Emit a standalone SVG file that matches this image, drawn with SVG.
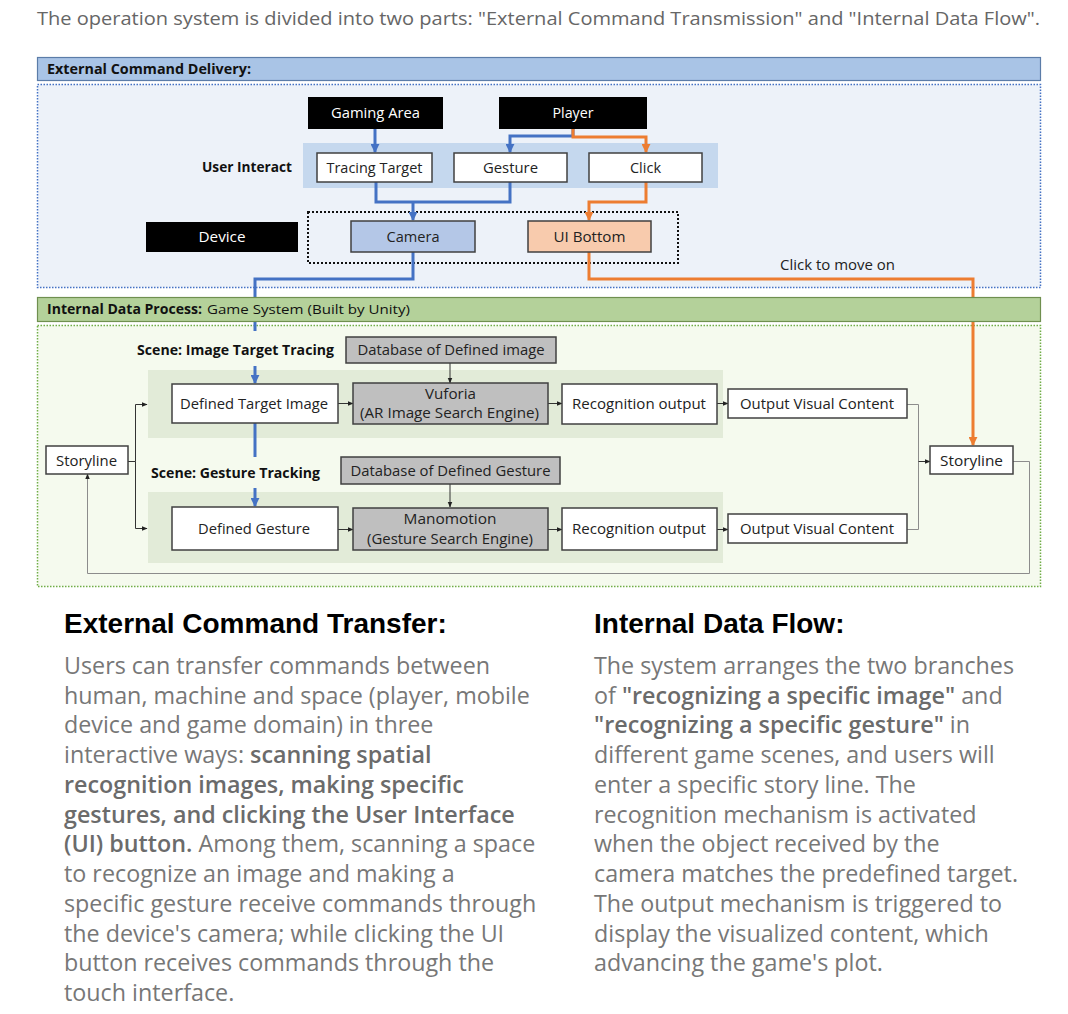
<svg xmlns="http://www.w3.org/2000/svg" width="1068" height="1014" viewBox="0 0 1068 1014">
<defs>
<style>
.t{font-family:"Open Sans","Noto Sans","DejaVu Sans",sans-serif;font-size:14.5px;fill:#222;text-anchor:middle}
.tw{fill:#fff}
.b{font-weight:bold}
.hd{font-family:"Open Sans","Noto Sans",sans-serif;font-size:13.5px;fill:#111}
.box{fill:#fff;stroke:#404040;stroke-width:1.5}
.gbox{fill:#bfbfbf;stroke:#404040;stroke-width:1.5}
.blk{fill:#000}
.blue{fill:none;stroke:#4472c4;stroke-width:3}
.org{fill:none;stroke:#ed7d31;stroke-width:3}
.thin{fill:none;stroke:#333;stroke-width:1}
.lg{fill:none;stroke:#8c8c8c;stroke-width:1}
.h2{font-family:"Liberation Sans",Arial,sans-serif;font-weight:bold;font-size:28px;fill:#000}
.p{font-family:"Open Sans","Noto Sans",sans-serif;font-size:23.3px;fill:#777}
.pb{font-weight:600;fill:#6b6b6b}
</style>
<marker id="ab" viewBox="0 0 10 10" refX="9" refY="5" markerWidth="3" markerHeight="3" orient="auto" markerUnits="strokeWidth"><path d="M0,0 L10,5 L0,10 z" fill="#4472c4"/></marker>
<marker id="ao" viewBox="0 0 10 10" refX="9" refY="5" markerWidth="3" markerHeight="3" orient="auto" markerUnits="strokeWidth"><path d="M0,0 L10,5 L0,10 z" fill="#ed7d31"/></marker>
<marker id="ak" viewBox="0 0 10 10" refX="9" refY="5" markerWidth="6" markerHeight="6" orient="auto" markerUnits="strokeWidth"><path d="M0,1 L10,5 L0,9 z" fill="#222"/></marker>
</defs>
<rect width="1068" height="1014" fill="#fff"/>
<text x="37" y="25" font-family="Open Sans,Noto Sans,sans-serif" font-size="17.5" fill="#666" textLength="1003" lengthAdjust="spacingAndGlyphs">The operation system is divided into two parts: "External Command Transmission" and "Internal Data Flow".</text>

<!-- section backgrounds -->
<g id="external-section">
<rect x="37.5" y="57.5" width="1003" height="23" fill="#a9c4e6" stroke="#5b7ca8" stroke-width="1.2"/>
<text class="hd b" x="47" y="73.5" textLength="204" lengthAdjust="spacingAndGlyphs">External Command Delivery:</text>
<rect x="37.5" y="84.5" width="1003" height="203" fill="#edf2f9" stroke="#4472c4" stroke-width="1.5" stroke-dasharray="1.5 1.5"/>
<rect x="303" y="143" width="415" height="45" fill="#c5d8ee"/>
<rect x="308" y="212" width="370" height="51" fill="none" stroke="#111" stroke-width="2" stroke-dasharray="2 2"/>
</g>
<g id="internal-section">
<rect x="37.5" y="325.5" width="1003" height="261" fill="#f5faee" stroke="#70ad47" stroke-width="1.5" stroke-dasharray="1.5 1.5"/>
<rect x="148" y="370" width="575" height="68" fill="#e2ebd8"/>
<rect x="148" y="492" width="575" height="71" fill="#e2ebd8"/>
</g>

<!-- connectors -->
<g id="connectors">
<path class="blue" d="M375,129 V152" marker-end="url(#ab)"/>
<path class="blue" d="M573,129 V136 H510 V152" marker-end="url(#ab)"/>
<path class="blue" d="M376,182 V202 H510 V182"/>
<path class="blue" d="M413,202 V220" marker-end="url(#ab)"/>
<path class="blue" d="M413,252 V279 H255 V331"/>
<path class="blue" d="M255,366 V383" marker-end="url(#ab)"/>
<path class="blue" d="M255,423 V457"/>
<path class="blue" d="M255,488 V506" marker-end="url(#ab)"/>
<path class="org" d="M573,129 V137 H646 V152" marker-end="url(#ao)"/>
<path class="org" d="M646,182 V202 H589 V220" marker-end="url(#ao)"/>
<path class="org" d="M589,252 V279 H973 V445" marker-end="url(#ao)"/>
<path class="thin" d="M450,363 V383" marker-end="url(#ak)"/>
<path class="thin" d="M338,403.5 H353" marker-end="url(#ak)"/>
<path class="thin" d="M548,403.5 H562" marker-end="url(#ak)"/>
<path class="thin" d="M717,403.5 H728" marker-end="url(#ak)"/>
<path class="thin" d="M450,484 V507" marker-end="url(#ak)"/>
<path class="thin" d="M338,529.5 H353" marker-end="url(#ak)"/>
<path class="thin" d="M548,529.5 H562" marker-end="url(#ak)"/>
<path class="thin" d="M717,529.5 H728" marker-end="url(#ak)"/>
<path class="thin" d="M128,461.5 H135.5 V404.5 H147" marker-end="url(#ak)"/>
<path class="thin" d="M135.5,461.5 V528.5 H147" marker-end="url(#ak)"/>
<path class="lg" d="M907,404.5 H918.5 V529.5 H907"/>
<path class="thin" d="M918.5,461.5 H930" marker-end="url(#ak)"/>
<path class="lg" stroke="#6e6e6e" d="M1013,461.5 H1029.5 V573.5 H87.5 V474" marker-end="url(#ak)"/>
</g>

<g id="internal-header">
<rect x="37.5" y="297.5" width="1003" height="24" fill="#b4d19a" stroke="#6f8f4f" stroke-width="1.2"/>
<text class="hd" x="47" y="314"><tspan class="b" textLength="155" lengthAdjust="spacingAndGlyphs">Internal Data Process:</tspan><tspan x="207" textLength="203" lengthAdjust="spacingAndGlyphs">Game System (Built by Unity)</tspan></text>
</g>

<!-- nodes -->
<g id="gaming-area"><rect class="blk" x="308" y="97" width="135" height="32"/><text class="t tw" x="375.5" y="118" textLength="89" lengthAdjust="spacingAndGlyphs">Gaming Area</text></g>
<g id="player"><rect class="blk" x="499" y="97" width="148" height="32"/><text class="t tw" x="573" y="118" textLength="41" lengthAdjust="spacingAndGlyphs">Player</text></g>
<g id="user-interact"><text class="hd b" x="292" y="172" text-anchor="end" textLength="90" lengthAdjust="spacingAndGlyphs">User Interact</text></g>
<g id="tracing-target"><rect class="box" x="317" y="153" width="115" height="29"/><text class="t" x="374.5" y="172.5" textLength="96" lengthAdjust="spacingAndGlyphs">Tracing Target</text></g>
<g id="gesture"><rect class="box" x="454" y="153" width="113" height="29"/><text class="t" x="510.5" y="172.5" textLength="55" lengthAdjust="spacingAndGlyphs">Gesture</text></g>
<g id="click"><rect class="box" x="589" y="153" width="113" height="29"/><text class="t" x="645.5" y="172.5" textLength="31" lengthAdjust="spacingAndGlyphs">Click</text></g>
<g id="device"><rect class="blk" x="146" y="222" width="152" height="30"/><text class="t tw" x="222" y="242" textLength="47" lengthAdjust="spacingAndGlyphs">Device</text></g>
<g id="camera"><rect x="351" y="221" width="124" height="31" fill="#b4c7e7" stroke="#404040" stroke-width="1.5"/><text class="t" x="413" y="241.5" textLength="53" lengthAdjust="spacingAndGlyphs">Camera</text></g>
<g id="ui-bottom"><rect x="528" y="221" width="123" height="31" fill="#f8cbad" stroke="#404040" stroke-width="1.5"/><text class="t" x="589.5" y="241.5" textLength="72" lengthAdjust="spacingAndGlyphs">UI Bottom</text></g>
<g id="click-label"><text class="t" x="837.5" y="270" textLength="115" lengthAdjust="spacingAndGlyphs">Click to move on</text></g>

<g id="scene-image-label"><text class="hd b" x="137" y="355" textLength="197" lengthAdjust="spacingAndGlyphs">Scene: Image Target Tracing</text></g>
<g id="db-image"><rect class="gbox" x="346" y="337" width="210" height="26"/><text class="t" x="451" y="355" textLength="187" lengthAdjust="spacingAndGlyphs">Database of Defined image</text></g>
<g id="defined-target-image"><rect class="box" x="172" y="384" width="166" height="39"/><text class="t" x="254" y="408.5" textLength="148" lengthAdjust="spacingAndGlyphs">Defined Target Image</text></g>
<g id="vuforia"><rect class="gbox" x="353" y="383" width="195" height="41"/><text class="t" x="450.5" y="399" textLength="51" lengthAdjust="spacingAndGlyphs">Vuforia</text><text class="t" x="449.5" y="418" textLength="179" lengthAdjust="spacingAndGlyphs">(AR Image Search Engine)</text></g>
<g id="recognition-1"><rect class="box" x="562" y="384" width="155" height="40"/><text class="t" x="639" y="409" textLength="134" lengthAdjust="spacingAndGlyphs">Recognition output</text></g>
<g id="output-1"><rect class="box" x="728" y="389" width="179" height="29"/><text class="t" x="817" y="408.5" textLength="154" lengthAdjust="spacingAndGlyphs">Output Visual Content</text></g>

<g id="storyline-left"><rect class="box" x="46" y="446" width="82" height="28"/><text class="t" x="86.5" y="465.5" textLength="61" lengthAdjust="spacingAndGlyphs">Storyline</text></g>
<g id="storyline-right"><rect class="box" x="930" y="446" width="83" height="28"/><text class="t" x="971.5" y="465.5" textLength="63" lengthAdjust="spacingAndGlyphs">Storyline</text></g>

<g id="scene-gesture-label"><text class="hd b" x="151" y="478" textLength="169" lengthAdjust="spacingAndGlyphs">Scene: Gesture Tracking</text></g>
<g id="db-gesture"><rect class="gbox" x="341" y="457" width="219" height="27"/><text class="t" x="450.5" y="475.5" textLength="200" lengthAdjust="spacingAndGlyphs">Database of Defined Gesture</text></g>
<g id="defined-gesture"><rect class="box" x="172" y="507" width="166" height="43"/><text class="t" x="254" y="534" textLength="112" lengthAdjust="spacingAndGlyphs">Defined Gesture</text></g>
<g id="manomotion"><rect class="gbox" x="353" y="508" width="195" height="42"/><text class="t" x="450" y="524" textLength="93" lengthAdjust="spacingAndGlyphs">Manomotion</text><text class="t" x="450" y="543.5" textLength="166" lengthAdjust="spacingAndGlyphs">(Gesture Search Engine)</text></g>
<g id="recognition-2"><rect class="box" x="562" y="508" width="155" height="42"/><text class="t" x="639" y="534" textLength="134" lengthAdjust="spacingAndGlyphs">Recognition output</text></g>
<g id="output-2"><rect class="box" x="728" y="514" width="179" height="29"/><text class="t" x="817" y="533.5" textLength="154" lengthAdjust="spacingAndGlyphs">Output Visual Content</text></g>

<!-- explanatory text -->
<g id="text-external">
<text class="h2" x="64" y="633">External Command Transfer:</text>
<text class="p" x="64" y="674">Users can transfer commands between</text>
<text class="p" x="64" y="704">human, machine and space (player, mobile</text>
<text class="p" x="64" y="733">device and game domain) in three</text>
<text class="p" x="64" y="763">interactive ways: <tspan class="pb">scanning spatial</tspan></text>
<text class="p pb" x="64" y="793">recognition images, making specific</text>
<text class="p pb" x="64" y="823">gestures, and clicking the User Interface</text>
<text class="p" x="64" y="852"><tspan class="pb">(UI) button.</tspan> Among them, scanning a space</text>
<text class="p" x="64" y="882">to recognize an image and making a</text>
<text class="p" x="64" y="912">specific gesture receive commands through</text>
<text class="p" x="64" y="942">the device's camera; while clicking the UI</text>
<text class="p" x="64" y="971">button receives commands through the</text>
<text class="p" x="64" y="1001">touch interface.</text>
</g>
<g id="text-internal">
<text class="h2" x="594" y="633">Internal Data Flow:</text>
<text class="p" x="594" y="674">The system arranges the two branches</text>
<text class="p" x="594" y="704">of <tspan class="pb">"recognizing a specific image"</tspan> and</text>
<text class="p" x="594" y="733"><tspan class="pb">"recognizing a specific gesture"</tspan> in</text>
<text class="p" x="594" y="763">different game scenes, and users will</text>
<text class="p" x="594" y="793">enter a specific story line. The</text>
<text class="p" x="594" y="823">recognition mechanism is activated</text>
<text class="p" x="594" y="852">when the object received by the</text>
<text class="p" x="594" y="882">camera matches the predefined target.</text>
<text class="p" x="594" y="912">The output mechanism is triggered to</text>
<text class="p" x="594" y="942">display the visualized content, which</text>
<text class="p" x="594" y="971">advancing the game's plot.</text>
</g>
</svg>
